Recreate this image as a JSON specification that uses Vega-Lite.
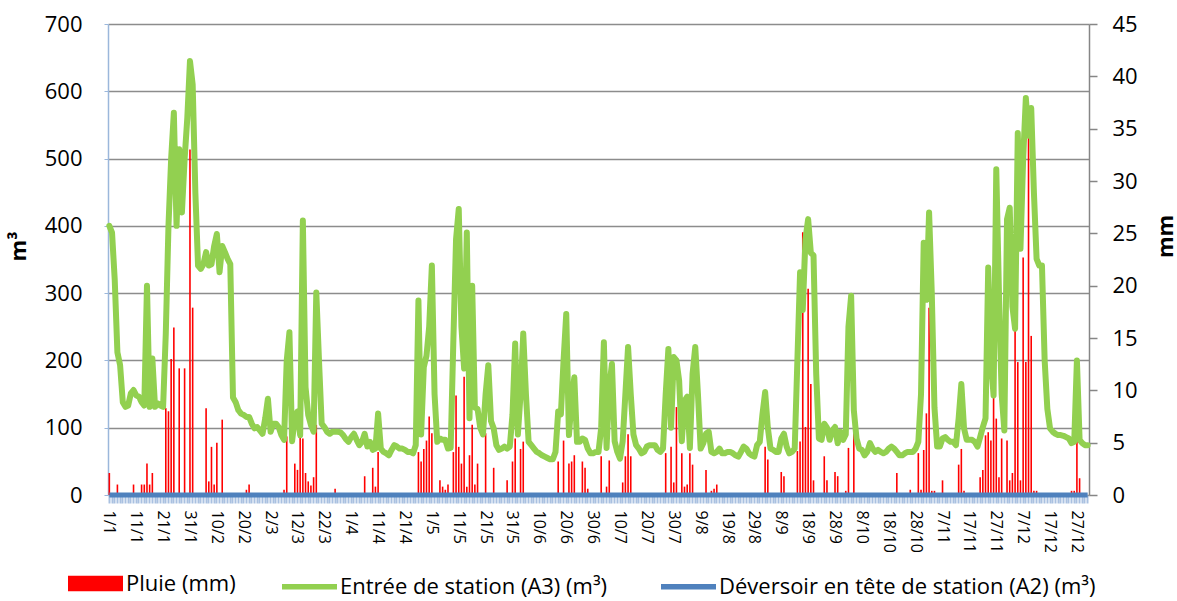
{
"$schema": "https://vega.github.io/schema/vega-lite/v6.json",
"width": 981,
"height": 471,
"autosize": {"type": "none"},
"padding": {"left": 108, "top": 24, "right": 88, "bottom": 106},
"background": "white",
"config": {"font": "Open Sans", "view": {"stroke": null}},
"data": {"values": [
{"date":"1/1","inflow":400,"rain":2.1,"overflow":0},{"date":"2/1","inflow":390,"rain":0,"overflow":0},{"date":"3/1","inflow":320,"rain":0,"overflow":0},{"date":"4/1","inflow":212,"rain":1.0,"overflow":0},{"date":"5/1","inflow":193,"rain":0,"overflow":0},{"date":"6/1","inflow":138,"rain":0,"overflow":0},{"date":"7/1","inflow":131,"rain":0,"overflow":0},{"date":"8/1","inflow":133,"rain":0,"overflow":0},{"date":"9/1","inflow":151,"rain":0,"overflow":0},{"date":"10/1","inflow":156,"rain":1.0,"overflow":0},
{"date":"11/1","inflow":148,"rain":0,"overflow":0},{"date":"12/1","inflow":146,"rain":0,"overflow":0},{"date":"13/1","inflow":138,"rain":1.0,"overflow":0},{"date":"14/1","inflow":133,"rain":1.0,"overflow":0},{"date":"15/1","inflow":311,"rain":3.0,"overflow":0},{"date":"16/1","inflow":131,"rain":1.0,"overflow":0},{"date":"17/1","inflow":203,"rain":2.1,"overflow":0},{"date":"18/1","inflow":131,"rain":0,"overflow":0},{"date":"19/1","inflow":136,"rain":0,"overflow":0},{"date":"20/1","inflow":133,"rain":0,"overflow":0},
{"date":"21/1","inflow":131,"rain":0,"overflow":0},{"date":"22/1","inflow":240,"rain":8.3,"overflow":0},{"date":"23/1","inflow":400,"rain":8.0,"overflow":0},{"date":"24/1","inflow":500,"rain":13.0,"overflow":0},{"date":"25/1","inflow":568,"rain":16.0,"overflow":0},{"date":"26/1","inflow":400,"rain":0,"overflow":0},{"date":"27/1","inflow":514,"rain":12.1,"overflow":0},{"date":"28/1","inflow":420,"rain":0,"overflow":0},{"date":"29/1","inflow":499,"rain":12.1,"overflow":0},{"date":"30/1","inflow":560,"rain":0,"overflow":0},
{"date":"31/1","inflow":645,"rain":33,"overflow":0},{"date":"1/2","inflow":610,"rain":17.9,"overflow":0},{"date":"2/2","inflow":450,"rain":0,"overflow":0},{"date":"3/2","inflow":341,"rain":0,"overflow":0},{"date":"4/2","inflow":336,"rain":0,"overflow":0},{"date":"5/2","inflow":343,"rain":0,"overflow":0},{"date":"6/2","inflow":361,"rain":8.3,"overflow":0},{"date":"7/2","inflow":341,"rain":1.3,"overflow":0},{"date":"8/2","inflow":343,"rain":4.6,"overflow":0},{"date":"9/2","inflow":370,"rain":1.0,"overflow":0},
{"date":"10/2","inflow":388,"rain":5.0,"overflow":0},{"date":"11/2","inflow":331,"rain":0,"overflow":0},{"date":"12/2","inflow":370,"rain":7.2,"overflow":0},{"date":"13/2","inflow":361,"rain":0,"overflow":0},{"date":"14/2","inflow":351,"rain":0,"overflow":0},{"date":"15/2","inflow":343,"rain":0,"overflow":0},{"date":"16/2","inflow":145,"rain":0,"overflow":0},{"date":"17/2","inflow":138,"rain":0,"overflow":0},{"date":"18/2","inflow":126,"rain":0,"overflow":0},{"date":"19/2","inflow":121,"rain":0,"overflow":0},
{"date":"20/2","inflow":119,"rain":0,"overflow":0},{"date":"21/2","inflow":116,"rain":0.5,"overflow":0},{"date":"22/2","inflow":116,"rain":1.0,"overflow":0},{"date":"23/2","inflow":106,"rain":0,"overflow":0},{"date":"24/2","inflow":99,"rain":0,"overflow":0},{"date":"25/2","inflow":101,"rain":0,"overflow":0},{"date":"26/2","inflow":96,"rain":0,"overflow":0},{"date":"27/2","inflow":91,"rain":0,"overflow":0},{"date":"28/2","inflow":114,"rain":0,"overflow":0},{"date":"1/3","inflow":143,"rain":0,"overflow":0},
{"date":"2/3","inflow":94,"rain":0,"overflow":0},{"date":"3/3","inflow":106,"rain":0,"overflow":0},{"date":"4/3","inflow":106,"rain":0,"overflow":0},{"date":"5/3","inflow":101,"rain":0,"overflow":0},{"date":"6/3","inflow":89,"rain":0,"overflow":0},{"date":"7/3","inflow":82,"rain":0.5,"overflow":0},{"date":"8/3","inflow":200,"rain":5.6,"overflow":0},{"date":"9/3","inflow":242,"rain":0,"overflow":0},{"date":"10/3","inflow":80,"rain":0,"overflow":0},{"date":"11/3","inflow":115,"rain":3.0,"overflow":0},
{"date":"12/3","inflow":124,"rain":2.4,"overflow":0},{"date":"13/3","inflow":89,"rain":5.6,"overflow":0},{"date":"14/3","inflow":408,"rain":5.4,"overflow":0},{"date":"15/3","inflow":160,"rain":2.1,"overflow":0},{"date":"16/3","inflow":119,"rain":1.3,"overflow":0},{"date":"17/3","inflow":104,"rain":0.9,"overflow":0},{"date":"18/3","inflow":94,"rain":1.7,"overflow":0},{"date":"19/3","inflow":301,"rain":6.7,"overflow":0},{"date":"20/3","inflow":200,"rain":0,"overflow":0},{"date":"21/3","inflow":106,"rain":0,"overflow":0},
{"date":"22/3","inflow":101,"rain":0,"overflow":0},{"date":"23/3","inflow":94,"rain":0,"overflow":0},{"date":"24/3","inflow":91,"rain":0,"overflow":0},{"date":"25/3","inflow":94,"rain":0,"overflow":0},{"date":"26/3","inflow":94,"rain":0.6,"overflow":0},{"date":"27/3","inflow":94,"rain":0,"overflow":0},{"date":"28/3","inflow":93,"rain":0,"overflow":0},{"date":"29/3","inflow":89,"rain":0,"overflow":0},{"date":"30/3","inflow":83,"rain":0,"overflow":0},{"date":"31/3","inflow":79,"rain":0,"overflow":0},
{"date":"1/4","inflow":86,"rain":0,"overflow":0},{"date":"2/4","inflow":91,"rain":0,"overflow":0},{"date":"3/4","inflow":82,"rain":0,"overflow":0},{"date":"4/4","inflow":74,"rain":0,"overflow":0},{"date":"5/4","inflow":79,"rain":0,"overflow":0},{"date":"6/4","inflow":91,"rain":1.8,"overflow":0},{"date":"7/4","inflow":72,"rain":0,"overflow":0},{"date":"8/4","inflow":79,"rain":0,"overflow":0},{"date":"9/4","inflow":67,"rain":2.6,"overflow":0},{"date":"10/4","inflow":69,"rain":0.8,"overflow":0},
{"date":"11/4","inflow":121,"rain":4.1,"overflow":0},{"date":"12/4","inflow":69,"rain":0,"overflow":0},{"date":"13/4","inflow":64,"rain":0,"overflow":0},{"date":"14/4","inflow":62,"rain":0,"overflow":0},{"date":"15/4","inflow":59,"rain":0,"overflow":0},{"date":"16/4","inflow":67,"rain":0,"overflow":0},{"date":"17/4","inflow":74,"rain":0,"overflow":0},{"date":"18/4","inflow":72,"rain":0,"overflow":0},{"date":"19/4","inflow":69,"rain":0,"overflow":0},{"date":"20/4","inflow":69,"rain":0,"overflow":0},
{"date":"21/4","inflow":67,"rain":0,"overflow":0},{"date":"22/4","inflow":64,"rain":0,"overflow":0},{"date":"23/4","inflow":64,"rain":0,"overflow":0},{"date":"24/4","inflow":62,"rain":0,"overflow":0},{"date":"25/4","inflow":74,"rain":0,"overflow":0},{"date":"26/4","inflow":289,"rain":4.1,"overflow":0},{"date":"27/4","inflow":90,"rain":3.2,"overflow":0},{"date":"28/4","inflow":190,"rain":4.4,"overflow":0},{"date":"29/4","inflow":207,"rain":5.2,"overflow":0},{"date":"30/4","inflow":250,"rain":7.5,"overflow":0},
{"date":"1/5","inflow":341,"rain":5.9,"overflow":0},{"date":"2/5","inflow":150,"rain":0,"overflow":0},{"date":"3/5","inflow":79,"rain":0,"overflow":0},{"date":"4/5","inflow":84,"rain":1.4,"overflow":0},{"date":"5/5","inflow":82,"rain":0.8,"overflow":0},{"date":"6/5","inflow":82,"rain":0.5,"overflow":0},{"date":"7/5","inflow":69,"rain":1.0,"overflow":0},{"date":"8/5","inflow":70,"rain":0,"overflow":0},{"date":"9/5","inflow":230,"rain":4.1,"overflow":0},{"date":"10/5","inflow":380,"rain":9.5,"overflow":0},
{"date":"11/5","inflow":425,"rain":4.6,"overflow":0},{"date":"12/5","inflow":250,"rain":3.0,"overflow":0},{"date":"13/5","inflow":188,"rain":11.3,"overflow":0},{"date":"14/5","inflow":390,"rain":0.8,"overflow":0},{"date":"15/5","inflow":114,"rain":3.8,"overflow":0},{"date":"16/5","inflow":311,"rain":6.7,"overflow":0},{"date":"17/5","inflow":130,"rain":1.0,"overflow":0},{"date":"18/5","inflow":128,"rain":3.0,"overflow":0},{"date":"19/5","inflow":100,"rain":0,"overflow":0},{"date":"20/5","inflow":90,"rain":0,"overflow":0},
{"date":"21/5","inflow":150,"rain":5.9,"overflow":0},{"date":"22/5","inflow":193,"rain":0,"overflow":0},{"date":"23/5","inflow":110,"rain":0,"overflow":0},{"date":"24/5","inflow":99,"rain":2.6,"overflow":0},{"date":"25/5","inflow":74,"rain":0,"overflow":0},{"date":"26/5","inflow":67,"rain":0,"overflow":0},{"date":"27/5","inflow":69,"rain":0,"overflow":0},{"date":"28/5","inflow":72,"rain":0,"overflow":0},{"date":"29/5","inflow":69,"rain":1.4,"overflow":0},{"date":"30/5","inflow":72,"rain":0,"overflow":0},
{"date":"31/5","inflow":120,"rain":3.2,"overflow":0},{"date":"1/6","inflow":225,"rain":5.4,"overflow":0},{"date":"2/6","inflow":90,"rain":0,"overflow":0},{"date":"3/6","inflow":150,"rain":4.4,"overflow":0},{"date":"4/6","inflow":240,"rain":5.1,"overflow":0},{"date":"5/6","inflow":150,"rain":0,"overflow":0},{"date":"6/6","inflow":79,"rain":0,"overflow":0},{"date":"7/6","inflow":74,"rain":0,"overflow":0},{"date":"8/6","inflow":69,"rain":0,"overflow":0},{"date":"9/6","inflow":64,"rain":0,"overflow":0},
{"date":"10/6","inflow":62,"rain":0,"overflow":0},{"date":"11/6","inflow":59,"rain":0,"overflow":0},{"date":"12/6","inflow":57,"rain":0,"overflow":0},{"date":"13/6","inflow":55,"rain":0,"overflow":0},{"date":"14/6","inflow":53,"rain":0,"overflow":0},{"date":"15/6","inflow":53,"rain":0,"overflow":0},{"date":"16/6","inflow":64,"rain":0,"overflow":0},{"date":"17/6","inflow":124,"rain":3.2,"overflow":0},{"date":"18/6","inflow":120,"rain":0,"overflow":0},{"date":"19/6","inflow":200,"rain":5.2,"overflow":0},
{"date":"20/6","inflow":269,"rain":0,"overflow":0},{"date":"21/6","inflow":89,"rain":3.0,"overflow":0},{"date":"22/6","inflow":140,"rain":3.2,"overflow":0},{"date":"23/6","inflow":175,"rain":3.8,"overflow":0},{"date":"24/6","inflow":79,"rain":0,"overflow":0},{"date":"25/6","inflow":79,"rain":0,"overflow":0},{"date":"26/6","inflow":84,"rain":3.2,"overflow":0},{"date":"27/6","inflow":82,"rain":2.6,"overflow":0},{"date":"28/6","inflow":69,"rain":0.6,"overflow":0},{"date":"29/6","inflow":62,"rain":0,"overflow":0},
{"date":"30/6","inflow":62,"rain":0,"overflow":0},{"date":"1/7","inflow":64,"rain":0,"overflow":0},{"date":"2/7","inflow":64,"rain":0,"overflow":0},{"date":"3/7","inflow":100,"rain":3.7,"overflow":0},{"date":"4/7","inflow":227,"rain":0,"overflow":0},{"date":"5/7","inflow":70,"rain":0.8,"overflow":0},{"date":"6/7","inflow":160,"rain":3.3,"overflow":0},{"date":"7/7","inflow":195,"rain":0,"overflow":0},{"date":"8/7","inflow":80,"rain":0,"overflow":0},{"date":"9/7","inflow":64,"rain":0,"overflow":0},
{"date":"10/7","inflow":54,"rain":0,"overflow":0},{"date":"11/7","inflow":80,"rain":1.2,"overflow":0},{"date":"12/7","inflow":150,"rain":3.7,"overflow":0},{"date":"13/7","inflow":220,"rain":5.8,"overflow":0},{"date":"14/7","inflow":150,"rain":3.7,"overflow":0},{"date":"15/7","inflow":90,"rain":0,"overflow":0},{"date":"16/7","inflow":74,"rain":0,"overflow":0},{"date":"17/7","inflow":69,"rain":0,"overflow":0},{"date":"18/7","inflow":62,"rain":0,"overflow":0},{"date":"19/7","inflow":64,"rain":0,"overflow":0},
{"date":"20/7","inflow":72,"rain":0,"overflow":0},{"date":"21/7","inflow":74,"rain":0,"overflow":0},{"date":"22/7","inflow":74,"rain":0,"overflow":0},{"date":"23/7","inflow":74,"rain":0,"overflow":0},{"date":"24/7","inflow":67,"rain":0,"overflow":0},{"date":"25/7","inflow":64,"rain":0,"overflow":0},{"date":"26/7","inflow":69,"rain":0,"overflow":0},{"date":"27/7","inflow":150,"rain":4.0,"overflow":0},{"date":"28/7","inflow":217,"rain":0,"overflow":0},{"date":"29/7","inflow":100,"rain":4.6,"overflow":0},
{"date":"30/7","inflow":205,"rain":1.2,"overflow":0},{"date":"31/7","inflow":200,"rain":8.4,"overflow":0},{"date":"1/8","inflow":170,"rain":0,"overflow":0},{"date":"2/8","inflow":80,"rain":4.0,"overflow":0},{"date":"3/8","inflow":140,"rain":0.8,"overflow":0},{"date":"4/8","inflow":146,"rain":1.0,"overflow":0},{"date":"5/8","inflow":70,"rain":4.0,"overflow":0},{"date":"6/8","inflow":180,"rain":2.9,"overflow":0},{"date":"7/8","inflow":220,"rain":0,"overflow":0},{"date":"8/8","inflow":150,"rain":0,"overflow":0},
{"date":"9/8","inflow":69,"rain":0,"overflow":0},{"date":"10/8","inflow":77,"rain":0,"overflow":0},{"date":"11/8","inflow":91,"rain":2.4,"overflow":0},{"date":"12/8","inflow":94,"rain":0,"overflow":0},{"date":"13/8","inflow":64,"rain":0.4,"overflow":0},{"date":"14/8","inflow":62,"rain":0.6,"overflow":0},{"date":"15/8","inflow":64,"rain":1.0,"overflow":0},{"date":"16/8","inflow":69,"rain":0,"overflow":0},{"date":"17/8","inflow":62,"rain":0,"overflow":0},{"date":"18/8","inflow":62,"rain":0,"overflow":0},
{"date":"19/8","inflow":64,"rain":0,"overflow":0},{"date":"20/8","inflow":64,"rain":0,"overflow":0},{"date":"21/8","inflow":62,"rain":0,"overflow":0},{"date":"22/8","inflow":59,"rain":0,"overflow":0},{"date":"23/8","inflow":57,"rain":0,"overflow":0},{"date":"24/8","inflow":64,"rain":0,"overflow":0},{"date":"25/8","inflow":72,"rain":0,"overflow":0},{"date":"26/8","inflow":69,"rain":0,"overflow":0},{"date":"27/8","inflow":62,"rain":0,"overflow":0},{"date":"28/8","inflow":59,"rain":0,"overflow":0},
{"date":"29/8","inflow":57,"rain":0,"overflow":0},{"date":"30/8","inflow":74,"rain":0,"overflow":0},{"date":"31/8","inflow":79,"rain":0,"overflow":0},{"date":"1/9","inflow":120,"rain":0,"overflow":0},{"date":"2/9","inflow":153,"rain":4.6,"overflow":0},{"date":"3/9","inflow":100,"rain":3.4,"overflow":0},{"date":"4/9","inflow":69,"rain":0,"overflow":0},{"date":"5/9","inflow":67,"rain":0,"overflow":0},{"date":"6/9","inflow":64,"rain":0,"overflow":0},{"date":"7/9","inflow":64,"rain":0,"overflow":0},
{"date":"8/9","inflow":84,"rain":2.2,"overflow":0},{"date":"9/9","inflow":91,"rain":1.8,"overflow":0},{"date":"10/9","inflow":72,"rain":0,"overflow":0},{"date":"11/9","inflow":62,"rain":0,"overflow":0},{"date":"12/9","inflow":64,"rain":0,"overflow":0},{"date":"13/9","inflow":69,"rain":0,"overflow":0},{"date":"14/9","inflow":200,"rain":4.2,"overflow":0},{"date":"15/9","inflow":331,"rain":5.1,"overflow":0},{"date":"16/9","inflow":275,"rain":25.1,"overflow":0},{"date":"17/9","inflow":380,"rain":6.5,"overflow":0},
{"date":"18/9","inflow":410,"rain":19.7,"overflow":0},{"date":"19/9","inflow":360,"rain":10.6,"overflow":0},{"date":"20/9","inflow":356,"rain":1.4,"overflow":0},{"date":"21/9","inflow":180,"rain":0,"overflow":0},{"date":"22/9","inflow":84,"rain":0,"overflow":0},{"date":"23/9","inflow":82,"rain":0,"overflow":0},{"date":"24/9","inflow":106,"rain":3.7,"overflow":0},{"date":"25/9","inflow":100,"rain":1.4,"overflow":0},{"date":"26/9","inflow":82,"rain":0,"overflow":0},{"date":"27/9","inflow":96,"rain":0,"overflow":0},
{"date":"28/9","inflow":101,"rain":2.2,"overflow":0},{"date":"29/9","inflow":77,"rain":1.8,"overflow":0},{"date":"30/9","inflow":94,"rain":0,"overflow":0},{"date":"1/10","inflow":82,"rain":0,"overflow":0},{"date":"2/10","inflow":90,"rain":0.4,"overflow":0},{"date":"3/10","inflow":250,"rain":4.5,"overflow":0},{"date":"4/10","inflow":296,"rain":0,"overflow":0},{"date":"5/10","inflow":126,"rain":7.7,"overflow":0},{"date":"6/10","inflow":84,"rain":0,"overflow":0},{"date":"7/10","inflow":69,"rain":0,"overflow":0},
{"date":"8/10","inflow":67,"rain":0,"overflow":0},{"date":"9/10","inflow":59,"rain":0,"overflow":0},{"date":"10/10","inflow":64,"rain":0,"overflow":0},{"date":"11/10","inflow":77,"rain":0,"overflow":0},{"date":"12/10","inflow":69,"rain":0,"overflow":0},{"date":"13/10","inflow":64,"rain":0,"overflow":0},{"date":"14/10","inflow":67,"rain":0,"overflow":0},{"date":"15/10","inflow":64,"rain":0,"overflow":0},{"date":"16/10","inflow":62,"rain":0,"overflow":0},{"date":"17/10","inflow":64,"rain":0,"overflow":0},
{"date":"18/10","inflow":69,"rain":0,"overflow":0},{"date":"19/10","inflow":72,"rain":0,"overflow":0},{"date":"20/10","inflow":69,"rain":0,"overflow":0},{"date":"21/10","inflow":64,"rain":2.1,"overflow":0},{"date":"22/10","inflow":59,"rain":0,"overflow":0},{"date":"23/10","inflow":59,"rain":0,"overflow":0},{"date":"24/10","inflow":62,"rain":0,"overflow":0},{"date":"25/10","inflow":64,"rain":0,"overflow":0},{"date":"26/10","inflow":64,"rain":0.5,"overflow":0},{"date":"27/10","inflow":64,"rain":0,"overflow":0},
{"date":"28/10","inflow":69,"rain":0,"overflow":0},{"date":"29/10","inflow":79,"rain":4.0,"overflow":0},{"date":"30/10","inflow":150,"rain":0.5,"overflow":0},{"date":"31/10","inflow":375,"rain":4.3,"overflow":0},{"date":"1/11","inflow":290,"rain":7.8,"overflow":0},{"date":"2/11","inflow":420,"rain":17.9,"overflow":0},{"date":"3/11","inflow":300,"rain":0.4,"overflow":0},{"date":"4/11","inflow":130,"rain":0.4,"overflow":0},{"date":"5/11","inflow":72,"rain":0,"overflow":0},{"date":"6/11","inflow":72,"rain":0,"overflow":0},
{"date":"7/11","inflow":84,"rain":1.4,"overflow":0},{"date":"8/11","inflow":86,"rain":0,"overflow":0},{"date":"9/11","inflow":82,"rain":0,"overflow":0},{"date":"10/11","inflow":79,"rain":0,"overflow":0},{"date":"11/11","inflow":79,"rain":0,"overflow":0},{"date":"12/11","inflow":74,"rain":0,"overflow":0},{"date":"13/11","inflow":114,"rain":2.9,"overflow":0},{"date":"14/11","inflow":165,"rain":4.4,"overflow":0},{"date":"15/11","inflow":99,"rain":0.4,"overflow":0},{"date":"16/11","inflow":82,"rain":0,"overflow":0},
{"date":"17/11","inflow":82,"rain":0,"overflow":0},{"date":"18/11","inflow":82,"rain":0,"overflow":0},{"date":"19/11","inflow":79,"rain":0,"overflow":0},{"date":"20/11","inflow":72,"rain":0,"overflow":0},{"date":"21/11","inflow":86,"rain":1.7,"overflow":0},{"date":"22/11","inflow":101,"rain":2.4,"overflow":0},{"date":"23/11","inflow":114,"rain":5.7,"overflow":0},{"date":"24/11","inflow":338,"rain":6.0,"overflow":0},{"date":"25/11","inflow":200,"rain":5.2,"overflow":0},{"date":"26/11","inflow":148,"rain":9.4,"overflow":0},
{"date":"27/11","inflow":484,"rain":7.3,"overflow":0},{"date":"28/11","inflow":300,"rain":1.7,"overflow":0},{"date":"29/11","inflow":150,"rain":5.4,"overflow":0},{"date":"30/11","inflow":96,"rain":0,"overflow":0},{"date":"1/12","inflow":410,"rain":5.2,"overflow":0},{"date":"2/12","inflow":427,"rain":1.4,"overflow":0},{"date":"3/12","inflow":280,"rain":2.1,"overflow":0},{"date":"4/12","inflow":247,"rain":15.9,"overflow":0},{"date":"5/12","inflow":538,"rain":12.7,"overflow":0},{"date":"6/12","inflow":366,"rain":1.4,"overflow":0},
{"date":"7/12","inflow":500,"rain":22.7,"overflow":0},{"date":"8/12","inflow":590,"rain":12.7,"overflow":0},{"date":"9/12","inflow":534,"rain":37,"overflow":0},{"date":"10/12","inflow":575,"rain":15.2,"overflow":0},{"date":"11/12","inflow":450,"rain":0.4,"overflow":0},{"date":"12/12","inflow":351,"rain":0.4,"overflow":0},{"date":"13/12","inflow":341,"rain":0,"overflow":0},{"date":"14/12","inflow":341,"rain":0,"overflow":0},{"date":"15/12","inflow":200,"rain":0,"overflow":0},{"date":"16/12","inflow":128,"rain":0,"overflow":0},
{"date":"17/12","inflow":99,"rain":0,"overflow":0},{"date":"18/12","inflow":94,"rain":0,"overflow":0},{"date":"19/12","inflow":91,"rain":0,"overflow":0},{"date":"20/12","inflow":89,"rain":0,"overflow":0},{"date":"21/12","inflow":89,"rain":0,"overflow":0},{"date":"22/12","inflow":88,"rain":0,"overflow":0},{"date":"23/12","inflow":86,"rain":0,"overflow":0},{"date":"24/12","inflow":84,"rain":0,"overflow":0},{"date":"25/12","inflow":77,"rain":0.4,"overflow":0},{"date":"26/12","inflow":79,"rain":0.4,"overflow":0},
{"date":"27/12","inflow":200,"rain":5.2,"overflow":0},{"date":"28/12","inflow":82,"rain":1.6,"overflow":0},{"date":"29/12","inflow":77,"rain":0,"overflow":0},{"date":"30/12","inflow":74,"rain":0,"overflow":0},{"date":"31/12","inflow":74,"rain":0,"overflow":0}
]},
"encoding": {
  "x": {"field": "date", "type": "ordinal", "sort": null, "title": null,
    "scale": {"paddingInner": 0, "paddingOuter": 0},
    "axis": {"labelAngle": 90, "labelAlign": "left", "labelBaseline": "middle", "labelFontSize": 16, "labelColor": "#000000", "labelPadding": 7, "labelOverlap": false, "labelFlush": false,
      "tickSize": 8, "tickColor": "#A9C0E0", "tickWidth": 2, "domain": false, "grid": false,
      "labelExpr": "indexof(['1/1','11/1','21/1','31/1','10/2','20/2','2/3','12/3','22/3','1/4','11/4','21/4','1/5','11/5','21/5','31/5','10/6','20/6','30/6','10/7','20/7','30/7','9/8','19/8','29/8','8/9','18/9','28/9','8/10','18/10','28/10','7/11','17/11','27/11','7/12','17/12','27/12'], datum.value) >= 0 ? datum.value : ''"}}
},
"layer": [
  {"mark": {"type": "bar", "width": 1.6},
   "encoding": {
     "y": {"field": "rain", "type": "quantitative", "scale": {"domain": [0, 45], "nice": false},
       "axis": {"orient": "right", "title": "mm", "values": [0,5,10,15,20,25,30,35,40,45], "grid": false,
         "labelFontSize": 22, "labelColor": "#000000", "labelPadding": 15, "tickSize": 8, "tickColor": "#868686", "tickWidth": 1.5,
         "domainColor": "#868686", "domainWidth": 1.5,
         "titleFontSize": 22, "titleFontWeight": "bold", "titleColor": "#000000", "titleAngle": -90, "titleX": 76, "titleY": 212, "titleAlign": "center", "titleBaseline": "middle"}},
     "fill": {"datum": "Pluie (mm)", "type": "nominal", "scale": {"range": ["#FF0000"]},
       "legend": {"orient": "none", "legendX": -40, "legendY": 532, "direction": "horizontal", "title": null, "padding": 0, "labelLimit": 0,
         "labelFontSize": 22, "labelColor": "#000000", "labelOffset": 3, "symbolSize": 3025, "symbolType": "M-1,-0.28H1V0.28H-1Z", "symbolStrokeWidth": 0, "symbolOpacity": 1}}
   }},
  {"mark": {"type": "line", "strokeWidth": 6, "strokeJoin": "round", "strokeCap": "round"},
   "encoding": {
     "y": {"field": "inflow", "type": "quantitative", "scale": {"domain": [0, 700], "nice": false},
       "axis": {"orient": "left", "title": "m³", "values": [0,100,200,300,400,500,600,700], "grid": true, "gridColor": "#8C8C8C", "gridWidth": 1.6,
         "labelFontSize": 22, "labelColor": "#000000", "labelPadding": 22, "tickSize": 4, "tickColor": "#9BB7DB",
         "domainColor": "#9BB7DB", "domainWidth": 1.5,
         "titleFontSize": 22, "titleFontWeight": "bold", "titleColor": "#000000", "titleAngle": -90, "titleX": -90, "titleY": 222, "titleAlign": "center", "titleBaseline": "middle"}},
     "stroke": {"datum": "Entrée de station (A3) (m³)", "type": "nominal",
       "scale": {"domain": ["Entrée de station (A3) (m³)", "Déversoir en tête de station (A2) (m³)"], "range": ["#92D050", "#4F81BD"]},
       "legend": {"orient": "none", "legendX": 171, "legendY": 532, "direction": "horizontal", "title": null, "padding": 0, "columnPadding": 42, "labelLimit": 0,
         "labelFontSize": 22, "labelColor": "#000000", "labelOffset": 0, "symbolSize": 3025, "symbolType": "stroke", "symbolStrokeWidth": 5.5}}
   }},
  {"mark": {"type": "line", "strokeWidth": 5},
   "encoding": {
     "y": {"field": "overflow", "type": "quantitative", "scale": {"domain": [0, 700], "nice": false}, "axis": null},
     "stroke": {"datum": "Déversoir en tête de station (A2) (m³)", "type": "nominal"}
   }}
],
"resolve": {"scale": {"y": "independent"}}
}
